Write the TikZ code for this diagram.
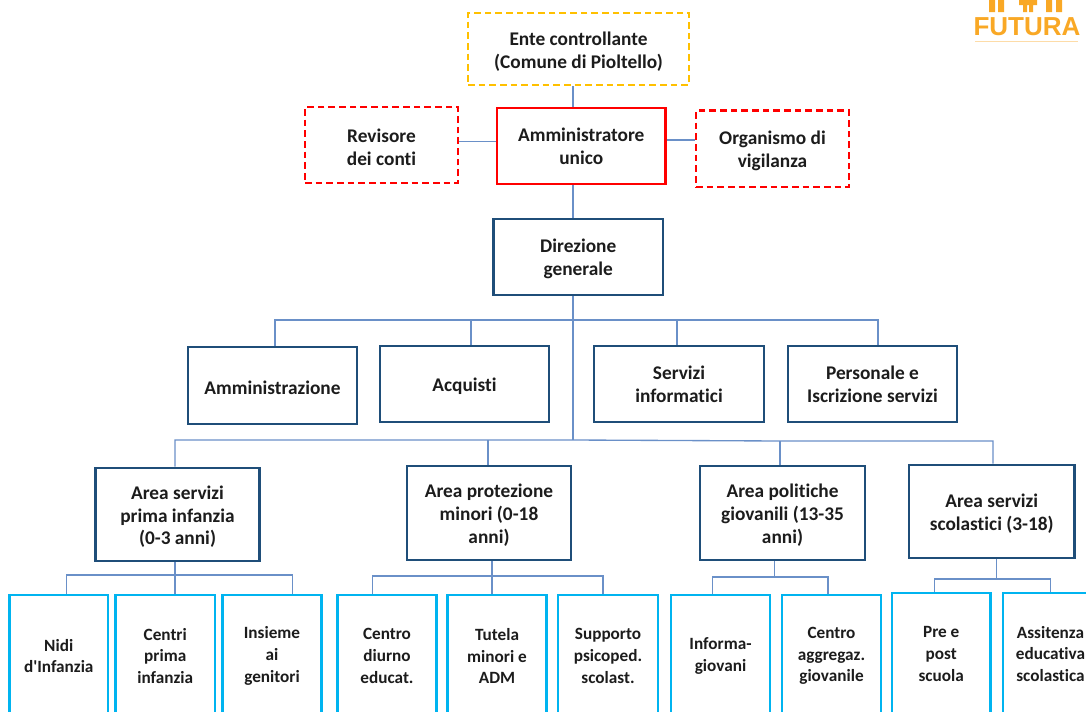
\documentclass[tikz,border=0pt]{standalone}
\usepackage{fontspec}
\setmainfont[Ligatures=NoCommon]{Carlito}
\newfontfamily\logofont{Liberation Sans}
\usetikzlibrary{calc}
\definecolor{linkblue}{HTML}{6A90C8}
\definecolor{darkbox}{HTML}{1F4E79}
\definecolor{lightbox}{HTML}{00B4F0}
\definecolor{redbox}{HTML}{FF0000}
\definecolor{yellowbox}{HTML}{FFC000}
\definecolor{logoorange}{HTML}{F9A825}
\definecolor{txt}{HTML}{1C1C1C}
\newcommand{\fl}{\rule{0pt}{13.5pt}}
\tikzset{
  x=0.75pt,y=-0.75pt,
  boxbase/.style={rectangle,inner sep=0pt,align=center,text=txt,font=\bfseries\fontsize{14.5}{17.2}\selectfont,fill=white},
  darkstyle/.style={boxbase,draw=darkbox,line width=2.2pt},
  lightstyle/.style={boxbase,draw=lightbox,line width=2.2pt,font=\bfseries\fontsize{12.9}{16.2}\selectfont},
  redsolid/.style={boxbase,draw=redbox,line width=2.1pt},
  reddash/.style={boxbase,draw=redbox,line width=1.8pt,dash pattern=on 5pt off 3pt},
  yellowdash/.style={boxbase,draw=yellowbox,line width=1.8pt,dash pattern=on 5pt off 3pt},
  link/.style={draw=linkblue,line width=1pt},
}
% name, style, x1, y1, x2, y2, text
\newcommand{\orgbox}[7]{%
  \pgfmathsetmacro{\bw}{(#5-#3)*0.75}%
  \pgfmathsetmacro{\bh}{(#6-#4)*0.75}%
  \node[#2,minimum width=\bw pt,minimum height=\bh pt] (#1) at ({(#3+#5)/2},{(#4+#6)/2}) {#7};}
\begin{document}
\begin{tikzpicture}
\useasboundingbox (0,0) rectangle (1086,711);
\clip (0,0) rectangle (1086,711);
\fill[white] (0,0) rectangle (1086,711);

% logo
\fill[logoorange] (989,0) rectangle (995,12) (998,0) rectangle (1004,12);
\fill[logoorange] (1019,0) rectangle (1037,5) (1023,5) rectangle (1027,12) (1029,5) rectangle (1033,12);
\fill[logoorange] (1046,0) rectangle (1052,12) (1056,0) rectangle (1062,12);
\node[text=logoorange,font=\logofont\bfseries\fontsize{19.5}{19.5}\selectfont,inner sep=0pt] (logo) at (1027,27) {FUTURA};
\fill[logoorange!40] (975,40.5) rectangle (1078,42);

% boxes
\orgbox{ente}{yellowdash}{468}{13}{689}{85}{\fl Ente controllante\\(Comune di Pioltello)}
\orgbox{rev}{reddash}{305}{107}{458}{183}{\fl Revisore\\dei conti}
\orgbox{amm}{redsolid}{497}{108}{665.5}{184}{Amministratore\\unico}
\orgbox{org}{reddash}{696}{110.5}{849}{187}{\fl Organismo di\\vigilanza}
\orgbox{dir}{darkstyle}{493.5}{219}{663}{295}{\fl Direzione\\generale}

\orgbox{s1}{darkstyle}{188}{347}{357}{424}{\fl Amministrazione}
\orgbox{s2}{darkstyle}{380}{346}{549}{422}{\fl Acquisti}
\orgbox{s3}{darkstyle}{594}{346}{764}{422}{Servizi\\informatici}
\orgbox{s4}{darkstyle}{788}{346}{957}{422}{Personale e\\Iscrizione servizi}

\orgbox{a1}{darkstyle}{95.5}{468}{259.5}{561}{\fl Area servizi\\prima infanzia\\(0-3 anni)}
\orgbox{a2}{darkstyle}{407}{466}{571}{560}{\fl Area protezione\\minori (0-18\\anni)}
\orgbox{a3}{darkstyle}{700}{466}{865}{560}{\fl Area politiche\\giovanili (13-35\\anni)}
\orgbox{a4}{darkstyle}{909}{465}{1074.5}{558}{\fl Area servizi\\scolastici (3-18)}

\orgbox{b1}{lightstyle}{9.5}{595}{108}{717}{Nidi\\d\textquotesingle Infanzia}
\orgbox{b2}{lightstyle}{115.5}{595}{215}{717}{Centri\\prima\\infanzia}
\orgbox{b3}{lightstyle}{222.5}{595}{321.5}{717}{Insieme\\ai\\genitori}
\orgbox{b4}{lightstyle}{337.5}{595}{436.5}{717}{Centro\\diurno\\educat.}
\orgbox{b5}{lightstyle}{447.5}{595}{546.5}{717}{Tutela\\minori e\\ADM}
\orgbox{b6}{lightstyle}{558}{595}{658}{717}{Supporto\\psicoped.\\scolast.}
\orgbox{b7}{lightstyle}{671}{595}{770}{717}{Informa-\\giovani}
\orgbox{b8}{lightstyle}{782}{595}{881}{717}{Centro\\aggregaz.\\giovanile}
\orgbox{b9}{lightstyle}{892}{593}{990.5}{715}{Pre e\\post\\scuola}
\orgbox{b10}{lightstyle}{1003}{593}{1098}{715}{Assitenza\\educativa\\scolastica}

% junction coordinates
\coordinate (ja) at (573,108);
\coordinate (jr) at (458,141.7);
\coordinate (jo) at (665.5,140);
\coordinate (busA) at (573,320);
\coordinate (busB) at (573,440);
\coordinate (t1) at (275,320);
\coordinate (t2) at (471,320);
\coordinate (t3) at (677,320);
\coordinate (t4) at (878,320);
\coordinate (u1) at (175,440);
\coordinate (u2) at (488,440);
\coordinate (u3) at (780,441);
\coordinate (u4) at (993,441);
\coordinate (v1) at (175,575);
\coordinate (v1l) at (66.5,575);
\coordinate (v1r) at (292.5,575);
\coordinate (v2) at (492,576);
\coordinate (v2l) at (372.5,576);
\coordinate (v2r) at (603,576);
\coordinate (v3) at (774.5,577);
\coordinate (v3l) at (712.5,577);
\coordinate (v3r) at (828,577);
\coordinate (v4) at (996.5,579);
\coordinate (v4l) at (934.5,579);
\coordinate (v4r) at (1050.5,579);

% connectors
\draw[link] (ente.south -| ja) -- (amm.north -| ja);
\draw[link] (rev.east |- jr) -- (amm.west |- jr);
\draw[link] (amm.east |- jo) -- (org.west |- jo);
\draw[link] (amm.south -| ja) -- (dir.north -| ja);
\draw[link] (dir.south -| busA) -- (busB);
\draw[link] (s1.north -| t1) -- (t1) -- (t4) -- (s4.north -| t4);
\draw[link] (t2) -- (s2.north -| t2);
\draw[link] (t3) -- (s3.north -| t3);
\draw[link] (a1.north -| u1) -- (u1) -- (u2) -- (busB) -- (u3) -- (u4) -- (a4.north -| u4);
\draw[link] (u2) -- (a2.north -| u2);
\draw[link] (u3) -- (a3.north -| u3);
\draw[link] (a1.south -| v1) -- (b2.north -| v1);
\draw[link] (b1.north -| v1l) -- (v1l) -- (v1r) -- (b3.north -| v1r);
\draw[link] (a2.south -| v2) -- (b5.north -| v2);
\draw[link] (b4.north -| v2l) -- (v2l) -- (v2r) -- (b6.north -| v2r);
\draw[link] (a3.south -| v3) -- (v3);
\draw[link] (b7.north -| v3l) -- (v3l) -- (v3r) -- (b8.north -| v3r);
\draw[link] (a4.south -| v4) -- (v4);
\draw[link] (b9.north -| v4l) -- (v4l) -- (v4r) -- (b10.north -| v4r);
\end{tikzpicture}
\end{document}
